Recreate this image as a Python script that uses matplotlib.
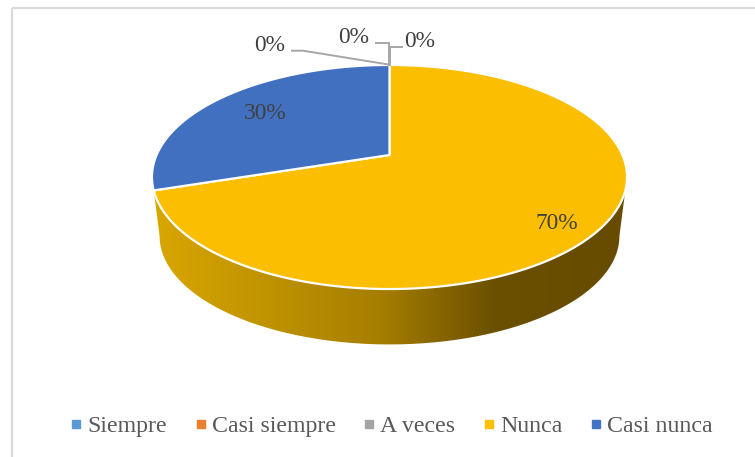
import numpy as np
import matplotlib
matplotlib.use("Agg")
import matplotlib.pyplot as plt
from matplotlib.transforms import Transform
from matplotlib.path import Path
from matplotlib.patches import Rectangle, PathPatch
from matplotlib.lines import Line2D
from matplotlib.colors import LinearSegmentedColormap

categories = ["Siempre", "Casi siempre", "A veces", "Nunca", "Casi nunca"]
values = [0, 0, 0, 70, 30]
legend_colors = ["#5B9BD5", "#ED7D31", "#A5A5A5", "#FFC000", "#4472C4"]
pie_colors = ["#5B9BD5", "#ED7D31", "#A5A5A5", "#FBBE00", "#4170C0"]

plt.rcParams['font.family'] = ['Liberation Serif', 'DejaVu Serif']

W, H = 755, 457
fig = plt.figure(figsize=(W / 100, H / 100), dpi=100)
ax = fig.add_axes([0, 0, 1, 1])


class Perspective(Transform):
    """Unit-circle pie plane -> pixel positions, tilted with perspective."""
    input_dims = output_dims = 2
    has_inverse = False
    is_separable = False

    def __init__(self, a=232.9, b=107.7, k=0.1964, cx=389.5, cy=155.0):
        super().__init__()
        self.a, self.b, self.k, self.cx, self.cy = a, b, k, cx, cy

    def transform_non_affine(self, xy):
        xy = np.asarray(xy, float)
        d = 1 + self.k * xy[:, 1]
        return np.column_stack([self.cx + self.a * xy[:, 0] / d,
                                self.cy - self.b * xy[:, 1] / d])

    def transform_path_non_affine(self, path):
        pts = []
        t = np.linspace(0, 1, 40)
        for bez, code in path.iter_bezier():
            if code == Path.MOVETO:
                pts.append(bez.control_points[:1])
            else:
                pts.append(bez(t))
        pts = np.vstack(pts)
        return Path(self.transform_non_affine(pts))


persp = Perspective()

wedges, _ = ax.pie(values, colors=pie_colors, startangle=90, counterclock=False,
                   radius=1, center=(0, 0),
                   wedgeprops=dict(edgecolor="white", linewidth=1.6))
for w in wedges:
    w.set_transform(persp + ax.transData)
    w.set_clip_on(False)
    w.set_zorder(3)

ax.set_aspect("auto")
ax.set_xlim(0, W)
ax.set_ylim(H, 0)
ax.set_axis_off()

# Chart frame (only its left and top edges fall inside the picture)
ax.add_patch(Rectangle((11.5, 7.5), 760, 470, fill=False, edgecolor="#D9D9D9",
                       linewidth=1.6, zorder=1, clip_on=True))

# Side wall of the tilted pie (gradient clipped to the wall outline)
scale, drop_cx, drop_cy = 0.968, 389.5, 236.0
th = np.linspace(np.pi + np.arcsin(persp.k), 2 * np.pi - np.arcsin(persp.k), 200)
ring = persp.transform_non_affine(np.column_stack([np.cos(th), np.sin(th)]))
ell_cy = 177.0
bottom = np.column_stack([drop_cx + (ring[:, 0] - 389.5) * scale,
                          drop_cy + (ring[:, 1] - ell_cy) * scale])
outline = np.vstack([ring[:1], bottom, ring[-1:], ring[:1]])
wall = PathPatch(Path(outline), facecolor="none", edgecolor="none", transform=ax.transData)
ax.add_patch(wall)
cmap = LinearSegmentedColormap.from_list(
    "wall", [(0.0, "#D9A700"), (0.48, "#A67E00"), (0.72, "#6B5000"), (1.0, "#664B00")])
img = ax.imshow(np.linspace(0, 1, 480)[None, :], cmap=cmap, aspect="auto",
                extent=(152, 627, 350, 170), zorder=2, interpolation="bilinear")
img.set_clip_path(wall)
ax.set_xlim(0, W)
ax.set_ylim(H, 0)

# Data labels
label_color = "#404040"
label_pos = [(270, 45.5), (354, 37.5), (420, 41.5), (557, 223.5), (265, 113.5)]
for v, (x, y) in zip(values, label_pos):
    ax.text(x, y, f"{v}%", ha="center", va="center", fontsize=16.8,
            color=label_color, zorder=5)

# Leader lines for the empty slices
leaders = [([292, 303, 388.5], [50.7, 50.7, 64.5]),
           ([376, 389, 389], [42.5, 42.5, 64.5]),
           ([402, 390, 390], [47, 47, 64.5])]
for xs, ys in leaders:
    ax.plot(xs, ys, color="#A6A6A6", linewidth=1.4, zorder=4, solid_joinstyle="miter")

# Legend
handles = [Line2D([], [], linestyle="none", marker="s", markersize=5.2,
                  markerfacecolor=c, markeredgecolor=c) for c in legend_colors]
fig.legend(handles, categories, ncol=5, loc="center", bbox_to_anchor=(391.5 / W, 1 - 426.5 / H),
           frameon=False, fontsize=17.2, labelcolor="#595959", columnspacing=1.17,
           handlelength=0.5, handletextpad=0.2, borderpad=0, borderaxespad=0)

fig.savefig("out.png", dpi=100)
